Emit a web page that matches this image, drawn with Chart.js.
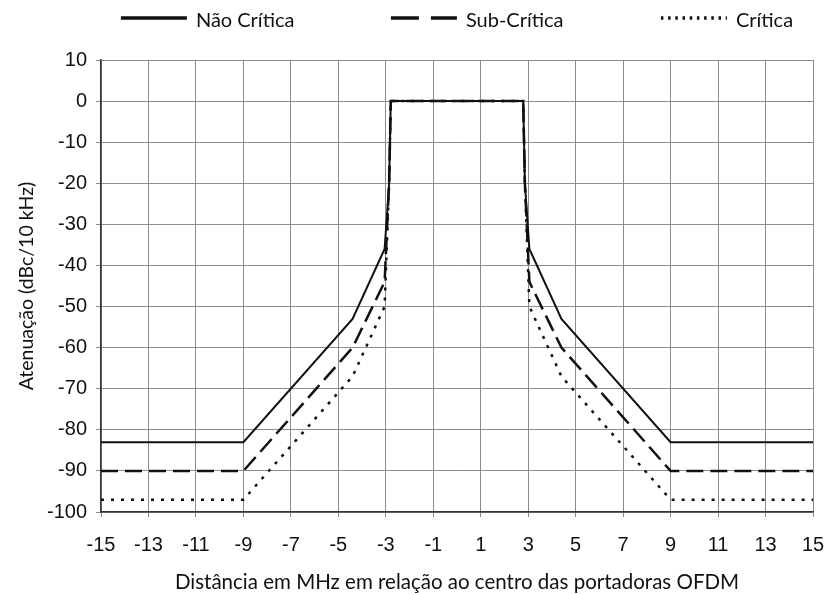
<!DOCTYPE html>
<html>
<head>
<meta charset="utf-8">
<script src="https://cdn.jsdelivr.net/npm/chart.js@4.4.1/dist/chart.umd.min.js"></script>
<style>
  html, body { margin: 0; padding: 0; background: #fff; }
  #wrap { width: 826px; height: 595px; }
</style>
</head>
<body>
<div id="wrap"><canvas id="myChart" width="826" height="595"></canvas></div>
<script>
// frequency offsets (MHz) and attenuation (dBc/10 kHz) for each mask
var seriesNames = ["Não Crítica", "Sub-Crítica", "Crítica"];
var freqValues = [-15, -9, -4.4, -3.05, -2.86, -2.79, 2.79, 2.86, 3.05, 4.4, 9, 15];
var naoCritica = [-83, -83, -53, -36, -20, 0, 0, -20, -36, -53, -83, -83];
var subCritica = [-90, -90, -60, -44, -20, 0, 0, -20, -44, -60, -90, -90];
var critica    = [-97, -97, -67, -50, -20, 0, 0, -20, -50, -67, -97, -97];
var xTicks = { min: -15, max: 15, step: 2 };
var yTicks = { min: -100, max: 10, step: 10 };

function points(ys) {
    return freqValues.map(function (f, i) { return { x: f, y: ys[i] }; });
}

var lineStyles = [
    { dash: [], width: 2, legendDash: [] },
    { dash: [17, 7], width: 2.5, legendDash: [28, 12] },
    { dash: [3, 7], width: 2.5, legendDash: [2.5, 4.7] }
];

// legend above the plot, items on a fixed pitch
var topLegend = {
    id: "topLegend",
    afterDraw: function (chart) {
        var ctx = chart.ctx;
        var area = chart.chartArea;
        var lineW = 66, gapText = 9, pitch = 270;
        ctx.save();
        ctx.font = "20px Lato";
        ctx.textBaseline = "middle";
        var lastW = ctx.measureText(seriesNames[seriesNames.length - 1]).width;
        var total = pitch * (seriesNames.length - 1) + lineW + gapText + lastW;
        var x0 = (area.left + area.right) / 2 - total / 2;
        seriesNames.forEach(function (n, i) {
            var x = x0 + i * pitch;
            ctx.strokeStyle = "#111";
            ctx.lineWidth = 3.5;
            ctx.setLineDash(lineStyles[i].legendDash);
            ctx.beginPath();
            ctx.moveTo(x, 18);
            ctx.lineTo(x + lineW, 18);
            ctx.stroke();
            ctx.setLineDash([]);
            ctx.fillStyle = "#111";
            ctx.fillText(n, x + lineW + gapText, 21);
        });
        ctx.restore();
    }
};

var seriesData = [naoCritica, subCritica, critica];

new Chart("myChart", {
    type: "line",
    data: {
        datasets: seriesData.map(function (ys, i) {
            return {
                label: seriesNames[i],
                data: points(ys),
                borderColor: "#111",
                borderWidth: lineStyles[i].width,
                borderDash: lineStyles[i].dash,
                pointRadius: 0,
                fill: false,
                tension: 0
            };
        })
    },
    options: {
        responsive: false,
        animation: false,
        layout: { padding: { top: 60, right: 13, left: 0, bottom: 0 } },
        plugins: {
            legend: { display: false },
            tooltip: { enabled: false }
        },
        scales: {
            x: {
                type: "linear",
                min: xTicks.min,
                max: xTicks.max,
                ticks: {
                    stepSize: xTicks.step,
                    color: "#111",
                    font: { family: "Liberation Sans", size: 20 },
                    padding: 16,
                    maxRotation: 0
                },
                grid: { color: "#8c8c8c", lineWidth: 1, tickLength: 5 },
                border: { color: "#333", width: 1.5 },
                title: {
                    display: true,
                    text: "Distância em MHz em relação ao centro das portadoras OFDM",
                    color: "#111",
                    font: { family: "Lato", size: 20.5 },
                    padding: { top: 4, bottom: 0 }
                },
                afterFit: function (scale) {
                    scale.height = 83;
                    scale.paddingLeft = 0;
                    scale.paddingRight = 0;
                }
            },
            y: {
                min: yTicks.min,
                max: yTicks.max,
                ticks: {
                    stepSize: yTicks.step,
                    color: "#111",
                    font: { family: "Liberation Sans", size: 20 },
                    padding: 9
                },
                grid: { color: "#8c8c8c", lineWidth: 1, tickLength: 5 },
                border: { color: "#333", width: 1.5 },
                title: {
                    display: true,
                    text: "Atenuação (dBc/10 kHz)",
                    color: "#111",
                    font: { family: "Lato", size: 19.5 },
                    padding: { top: 15, bottom: 0 }
                },
                afterFit: function (scale) { scale.width = 101; }
            }
        }
    },
    plugins: [topLegend]
});
</script>
</body>
</html>
